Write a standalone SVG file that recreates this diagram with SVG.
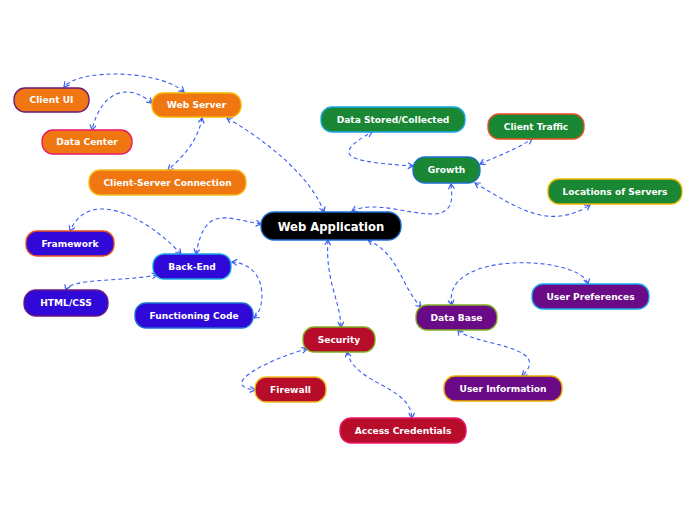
<svg xmlns="http://www.w3.org/2000/svg" width="696" height="520" viewBox="0 0 696 520">
<defs>
<marker id="ah" markerWidth="8" markerHeight="8" refX="6" refY="3.5" orient="auto-start-reverse" markerUnits="userSpaceOnUse">
<path d="M1,0.5 L6,3.5 L1,6.5" fill="none" stroke="#3a5cf5" stroke-width="1.2"/>
</marker>
</defs>
<style>
.n rect{stroke-width:1.3}
.n text{font-family:"DejaVu Sans",Verdana,sans-serif;font-weight:bold;font-size:9.1px;fill:#fff;text-anchor:middle;dominant-baseline:central}
.or{fill:#ef7610}.gr{fill:#198734}.bl{fill:#3009d9}.rd{fill:#b70d2b}.pu{fill:#6b0a87}
#conn path{fill:none;stroke:#3a5cf5;stroke-width:1.1;stroke-dasharray:4 3;marker-start:url(#ah);marker-end:url(#ah)}
</style>
<rect width="696" height="520" fill="#fff"/>
<g id="conn">
<path d="M324,212 C310,175 265,140 227,118"/>
<path d="M184,92 C160,70 80,68 64,87"/>
<path d="M152,103 C125,80 100,95 92,130"/>
<path d="M202,118 C198,140 185,155 168,170"/>
<path d="M352,211 C375,200 410,215 435,214 C455,212 452,195 451,184"/>
<path d="M413,166 C355,162 325,158 372,132"/>
<path d="M480,164 C500,155 515,150 532,139"/>
<path d="M475,183 C520,210 550,230 590,205"/>
<path d="M261,224 C225,218 205,205 196,254"/>
<path d="M181,254 C150,220 90,185 70,231"/>
<path d="M157,275 C120,282 70,278 66,290"/>
<path d="M232,262 C270,265 265,310 254,318"/>
<path d="M328,240 C325,280 340,300 341,327"/>
<path d="M368,240 C400,255 400,285 421,307"/>
<path d="M307,349 C275,357 215,385 255,390"/>
<path d="M347,352 C355,385 410,385 412,418"/>
<path d="M452,305 C440,250 580,255 588,284"/>
<path d="M458,330 C470,345 555,345 522,376"/>
</g>
<g id="web-application" class="n"><rect x="261" y="212" width="140" height="28" rx="13" fill="#000" stroke="#1b6fd1"/><text x="331" y="226.5" style="font-size:11.6px">Web Application</text></g>
<g id="web-server" class="n"><rect class="or" x="152" y="93" width="89" height="24" rx="11" stroke="#f5b700"/><text x="196.5" y="105">Web Server</text></g>
<g id="client-ui" class="n"><rect class="or" x="14" y="88" width="75" height="24" rx="11" stroke="#6a1a7a"/><text x="51.5" y="100">Client UI</text></g>
<g id="data-center" class="n"><rect class="or" x="42" y="130" width="90" height="24" rx="11" stroke="#e8186a"/><text x="87" y="142">Data Center</text></g>
<g id="client-server-connection" class="n"><rect class="or" x="89" y="170" width="157" height="25" rx="11" stroke="#f0c020"/><text x="167.5" y="182.5">Client-Server Connection</text></g>
<g id="data-stored" class="n"><rect class="gr" x="321" y="107" width="144" height="25" rx="11" stroke="#1aa8e8"/><text x="393" y="119.5">Data Stored/Collected</text></g>
<g id="client-traffic" class="n"><rect class="gr" x="488" y="114" width="96" height="25" rx="11" stroke="#e85020"/><text x="536" y="126.5">Client Traffic</text></g>
<g id="growth" class="n"><rect class="gr" x="413" y="157" width="67" height="26" rx="12" stroke="#1b6fd1"/><text x="446.5" y="170">Growth</text></g>
<g id="locations-of-servers" class="n"><rect class="gr" x="548" y="179" width="134" height="25" rx="11" stroke="#f0b800"/><text x="615" y="191.5">Locations of Servers</text></g>
<g id="framework" class="n"><rect class="bl" x="26" y="231" width="88" height="25" rx="11" stroke="#e85020"/><text x="70" y="243.5">Framework</text></g>
<g id="back-end" class="n"><rect class="bl" x="153" y="254" width="78" height="25" rx="11" stroke="#1aa8e8"/><text x="192" y="266.5">Back-End</text></g>
<g id="html-css" class="n"><rect class="bl" x="24" y="290" width="84" height="26" rx="12" stroke="#6a1a7a"/><text x="66" y="303">HTML/CSS</text></g>
<g id="functioning-code" class="n"><rect class="bl" x="135" y="303" width="118" height="25" rx="11" stroke="#1b6fd1"/><text x="194" y="315.5">Functioning Code</text></g>
<g id="security" class="n"><rect class="rd" x="303" y="327" width="72" height="25" rx="11" stroke="#80b020"/><text x="339" y="339.5">Security</text></g>
<g id="firewall" class="n"><rect class="rd" x="255" y="377" width="71" height="25" rx="11" stroke="#f0c020"/><text x="290.5" y="389.5">Firewall</text></g>
<g id="access-credentials" class="n"><rect class="rd" x="340" y="418" width="126" height="25" rx="11" stroke="#e8186a"/><text x="403" y="430.5">Access Credentials</text></g>
<g id="data-base" class="n"><rect class="pu" x="416" y="305" width="81" height="25" rx="11" stroke="#80b020"/><text x="456.5" y="317.5">Data Base</text></g>
<g id="user-preferences" class="n"><rect class="pu" x="532" y="284" width="117" height="25" rx="11" stroke="#1aa8e8"/><text x="590.5" y="296.5">User Preferences</text></g>
<g id="user-information" class="n"><rect class="pu" x="444" y="376" width="118" height="25" rx="11" stroke="#f0b000"/><text x="503" y="388.5">User Information</text></g>
</svg>
